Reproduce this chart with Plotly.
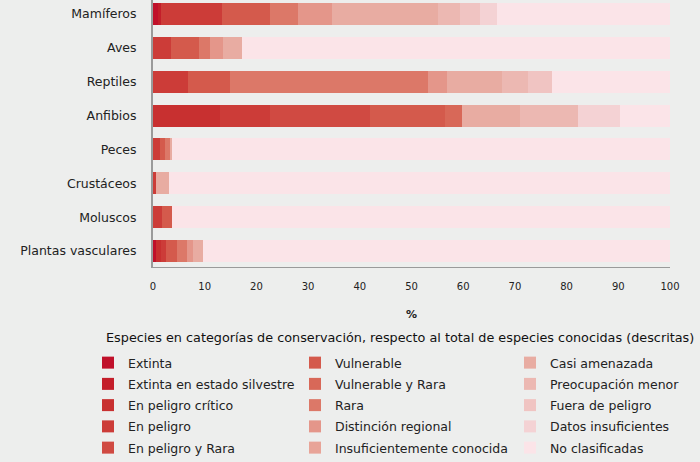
import plotly.graph_objects as go

categories = ["Mamíferos", "Aves", "Reptiles", "Anfibios", "Peces",
              "Crustáceos", "Moluscos", "Plantas vasculares"]

series_names = [
    "Extinta", "Extinta en estado silvestre", "En peligro crítico", "En peligro",
    "En peligro y Rara", "Vulnerable", "Vulnerable y Rara", "Rara",
    "Distinción regional", "Insuficientemente conocida", "Casi amenazada",
    "Preocupación menor", "Fuera de peligro", "Datos insuficientes", "No clasificadas",
]

#            Mam   Aves  Rept  Anf   Peces Crust Mol   Plantas
extinta      = [1.0, 0.0, 0.0, 0.0, 0.0, 0.0, 0.0, 0.6]
extinta_silv = [0.5, 0.0, 0.0, 0.0, 0.0, 0.0, 0.0, 0.0]
peligro_crit = [0.0, 0.0, 0.0, 13.0, 0.0, 0.0, 0.0, 0.9]
peligro      = [11.8, 3.4, 6.8, 9.6, 1.4, 0.6, 1.7, 1.0]
peligro_rara = [0.0, 0.0, 0.0, 19.4, 0.0, 0.0, 0.0, 0.0]
vulnerable   = [9.3, 5.4, 8.1, 14.5, 0.9, 0.0, 1.9, 2.1]
vuln_rara    = [0.0, 0.0, 0.0, 3.3, 0.0, 0.0, 0.0, 0.0]
rara         = [5.4, 2.2, 38.3, 0.0, 1.0, 0.0, 0.0, 1.9]
distincion   = [6.6, 2.6, 3.7, 0.0, 0.0, 0.0, 0.0, 1.3]
insuficiente = [0.0, 0.0, 0.0, 0.0, 0.0, 0.0, 0.0, 0.0]
casi_amen    = [20.5, 3.7, 10.6, 11.2, 0.4, 2.5, 0.0, 1.9]
preocupacion = [4.3, 0.0, 5.0, 11.2, 0.0, 0.0, 0.0, 0.0]
fuera        = [3.8, 0.0, 4.7, 0.0, 0.0, 0.0, 0.0, 0.0]
datos_insuf  = [3.3, 0.0, 0.0, 8.1, 0.0, 0.0, 0.0, 0.0]
no_clasif    = [33.5, 82.7, 22.8, 9.7, 96.3, 96.9, 96.4, 90.3]

series_values = [extinta, extinta_silv, peligro_crit, peligro, peligro_rara,
                 vulnerable, vuln_rara, rara, distincion, insuficiente,
                 casi_amen, preocupacion, fuera, datos_insuf, no_clasif]

colors = ["#c0102a", "#c41e2a", "#c83030", "#cc3c38", "#d04a42",
          "#d45a4c", "#d86858", "#dc7868", "#e4968a", "#e8a498",
          "#e8aca2", "#ecb8b2", "#f0c4c2", "#f4d2d4", "#fbe4e8"]

x_tick_vals = [0, 10, 20, 30, 40, 50, 60, 70, 80, 90, 100]

BG = "#edeeed"
FONT = "DejaVu Sans"
FS = 12.5

fig = go.Figure()
legend_ids = ["legend", "legend2", "legend3"]
for i, (name, vals, col) in enumerate(zip(series_names, series_values, colors)):
    fig.add_trace(go.Bar(
        name=name, y=categories, x=vals, orientation="h",
        marker=dict(color=col, line=dict(width=0)),
        legend=legend_ids[i // 5], legendgroup=name,
    ))

W, H = 700, 462
L, R, T, B = 153, 30, 0, 195
pw, ph = W - L - R, H - T - B

def px(x):
    return (x - L) / pw

def py(y):
    return (T + ph - y) / ph

leg_common = dict(font=dict(family=FONT, size=FS, color="#222"),
                  bgcolor="rgba(0,0,0,0)", orientation="v",
                  yanchor="top", xanchor="left", tracegroupgap=2,
                  itemclick=False, itemdoubleclick=False)

fig.update_layout(
    width=W, height=H,
    margin=dict(l=L, r=R, t=T, b=B, autoexpand=False),
    barmode="stack", bargap=0.35,
    paper_bgcolor=BG, plot_bgcolor=BG,
    font=dict(family=FONT, size=FS, color="#222"),
    legend=dict(x=px(88), y=py(348), **leg_common),
    legend2=dict(x=px(295), y=py(348), **leg_common),
    legend3=dict(x=px(510), y=py(348), **leg_common),
    xaxis=dict(range=[0, 100], tickvals=x_tick_vals, showgrid=False, zeroline=False,
               showline=True, linecolor="#9a9a9a", linewidth=1,
               ticks="outside", ticklen=10, tickcolor=BG,
               tickfont=dict(family=FONT, size=10, color="#222"),
               title=dict(text="<b>%</b>", standoff=19,
                          font=dict(family=FONT, size=11, color="#222"))),
    yaxis=dict(categoryorder="array", categoryarray=categories,
               range=[7.47, -0.413], showgrid=False, zeroline=False,
               showline=True, linecolor="#9a9a9a", linewidth=2,
               ticks="", ticklabelstandoff=12,
               tickfont=dict(family=FONT, size=FS, color="#222")),
    annotations=[dict(
        text="Especies en categorías de conservación, respecto al total de especies conocidas (descritas)",
        xref="paper", yref="paper", x=px(104), y=py(337), xanchor="left", yanchor="middle",
        showarrow=False, font=dict(family=FONT, size=12.8, color="#111"))],
)

fig.write_html("out.html", config={"displayModeBar": False},
               post_script="document.body.style.margin='0';document.body.style.overflow='hidden';")
